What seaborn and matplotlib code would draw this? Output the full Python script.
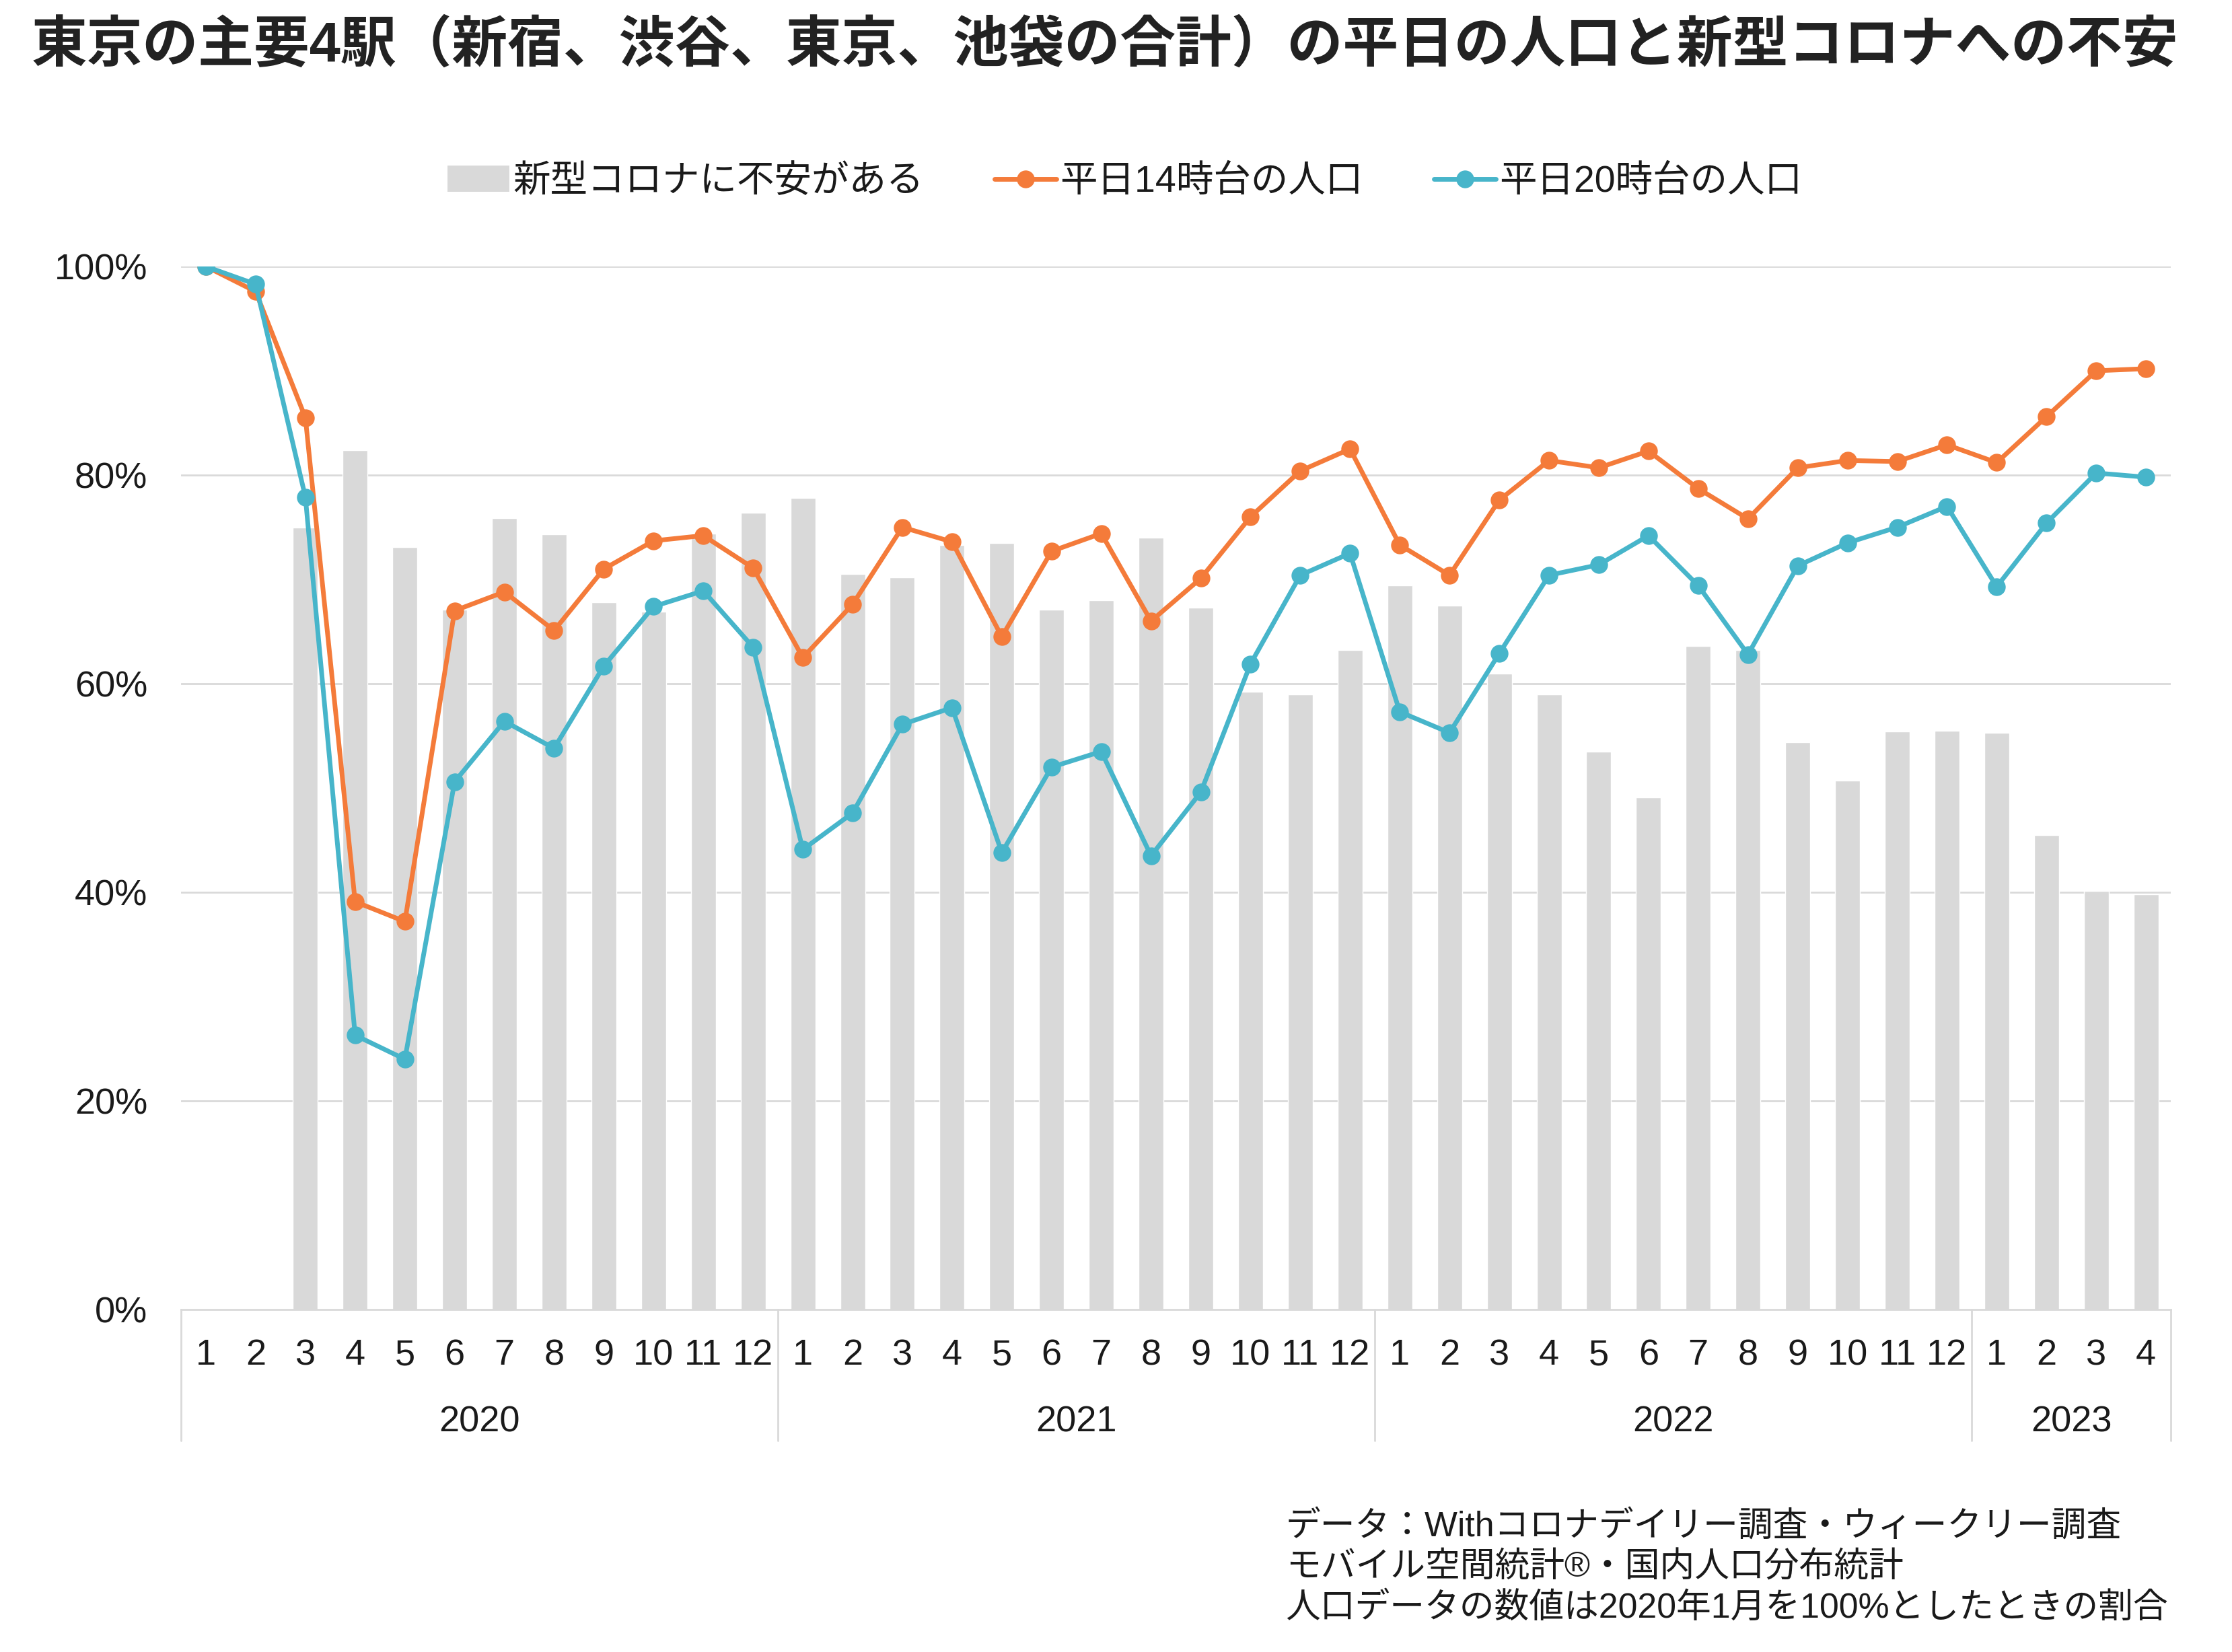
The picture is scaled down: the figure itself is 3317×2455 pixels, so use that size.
import numpy as np
import pandas as pd
import matplotlib
matplotlib.use("Agg")
import matplotlib.pyplot as plt
from matplotlib.lines import Line2D
from matplotlib.patches import Patch
import seaborn as sns

# data (percent of Jan 2020)
years = ["2020", "2021", "2022", "2023"]
year_months = [12, 12, 12, 4]
months = [str(m) for n in year_months for m in range(1, n + 1)]

anxiety = [np.nan, np.nan, 75.0, 82.4, 73.1, 67.1, 75.9, 74.3, 67.8, 66.9, 74.4, 76.4,
           77.8, 70.5, 70.2, 73.3, 73.5, 67.1, 68.0, 74.0, 67.3, 59.2, 59.0, 63.2,
           69.4, 67.5, 61.0, 59.0, 53.5, 49.1, 63.6, 63.2, 54.4, 50.7, 55.4, 55.5,
           55.3, 45.5, 40.1, 39.8]
pop_14 = [100, 97.6, 85.5, 39.1, 37.2, 67.0, 68.8, 65.1, 71.0, 73.7, 74.2, 71.1,
          62.5, 67.6, 75.0, 73.6, 64.5, 72.7, 74.4, 66.0, 70.1, 76.0, 80.4, 82.5,
          73.3, 70.4, 77.6, 81.4, 80.7, 82.3, 78.7, 75.8, 80.7, 81.4, 81.3, 82.9,
          81.2, 85.6, 90.0, 90.2]
pop_20 = [100, 98.3, 77.9, 26.3, 24.0, 50.6, 56.4, 53.8, 61.7, 67.4, 68.9, 63.5,
          44.1, 47.6, 56.1, 57.7, 43.8, 52.0, 53.5, 43.5, 49.6, 61.9, 70.4, 72.5,
          57.3, 55.3, 62.9, 70.4, 71.4, 74.2, 69.4, 62.8, 71.3, 73.5, 75.0, 77.0,
          69.3, 75.4, 80.2, 79.8]

labels = ["新型コロナに不安がある", "平日14時台の人口", "平日20時台の人口"]
bar_color = "#d9d9d9"
orange = "#f47b3a"
teal = "#47b5ca"
grid_color = "#d9d9d9"
text_color = "#1a1a1a"

df = pd.DataFrame({
    "idx": np.arange(len(months)),
    "anxiety": np.array(anxiety) / 100,
    "pop14": np.array(pop_14) / 100,
    "pop20": np.array(pop_20) / 100,
})

sns.set_style("white")
plt.rcParams["font.family"] = ["Liberation Sans", "Noto Sans CJK JP"]

fig = plt.figure(figsize=(33.17, 24.55), dpi=100)
ax = fig.add_axes([0.0811, 0.2073, 0.8915, 0.6314])

# grid first so it sits behind everything
for v in [0.2, 0.4, 0.6, 0.8, 1.0]:
    ax.axhline(v, color=grid_color, lw=2, zorder=0)

sns.barplot(data=df, x="idx", y="anxiety", order=list(df["idx"]), color=bar_color,
            width=0.5, saturation=1, ax=ax, zorder=1)
sns.lineplot(data=df, x="idx", y="pop14", color=orange, lw=5, marker="o",
             markersize=19, markeredgewidth=0, ax=ax, zorder=3)
sns.lineplot(data=df, x="idx", y="pop20", color=teal, lw=5, marker="o",
             markersize=19, markeredgewidth=0, ax=ax, zorder=4)

n = len(months)
ax.set_xlim(-0.5, n - 0.5)
ax.set_ylim(0, 1.0)
ax.set_xlabel("")
ax.set_ylabel("")
ax.set_yticks([0, 0.2, 0.4, 0.6, 0.8, 1.0])
ax.set_yticklabels(["0%", "20%", "40%", "60%", "80%", "100%"])
ax.set_xticks(range(n))
ax.set_xticklabels(months)
ax.tick_params(axis="y", length=0, pad=36, labelsize=39, labelcolor=text_color)
ax.tick_params(axis="x", length=0, pad=31, labelsize=39, labelcolor=text_color)
for s in ["left", "right", "top"]:
    ax.spines[s].set_visible(False)
ax.spines["bottom"].set_color(grid_color)
ax.spines["bottom"].set_linewidth(2)

# year groups under the month labels
trans = ax.get_xaxis_transform()
start = 0
bounds = [-0.5]
for y, cnt in zip(years, year_months):
    center = start + (cnt - 1) / 2
    ax.text(center, -0.108, y, transform=trans, ha="center", va="center",
            fontsize=39, color=text_color)
    start += cnt
    bounds.append(start - 0.5)
for b in bounds:
    ax.plot([b, b], [0, -0.126], transform=trans, color=grid_color, lw=2, clip_on=False)

# legend
handles = [
    Patch(facecolor=bar_color, edgecolor="none"),
    Line2D([0], [0], color=orange, lw=5, marker="o", markersize=19, markeredgewidth=0),
    Line2D([0], [0], color=teal, lw=5, marker="o", markersize=19, markeredgewidth=0),
]
fig.legend(handles, labels, loc="center", bbox_to_anchor=(0.504, 0.8895), ncol=3,
           frameon=False, fontsize=40, handlelength=1.65, handletextpad=0.1,
           columnspacing=1.9, labelcolor=text_color)

fig.text(0.014, 0.972, "東京の主要4駅（新宿、渋谷、東京、池袋の合計）の平日の人口と新型コロナへの不安",
         ha="left", va="center", fontsize=59.6, fontweight="bold", color="#222222")

fig.text(0.576, 0.051,
         "データ：Withコロナデイリー調査・ウィークリー調査\n"
         "モバイル空間統計®・国内人口分布統計\n"
         "人口データの数値は2020年1月を100%としたときの割合",
         ha="left", va="center", fontsize=37.3, color=text_color, linespacing=1.3)

fig.savefig("out.png", dpi=100, facecolor="white")
